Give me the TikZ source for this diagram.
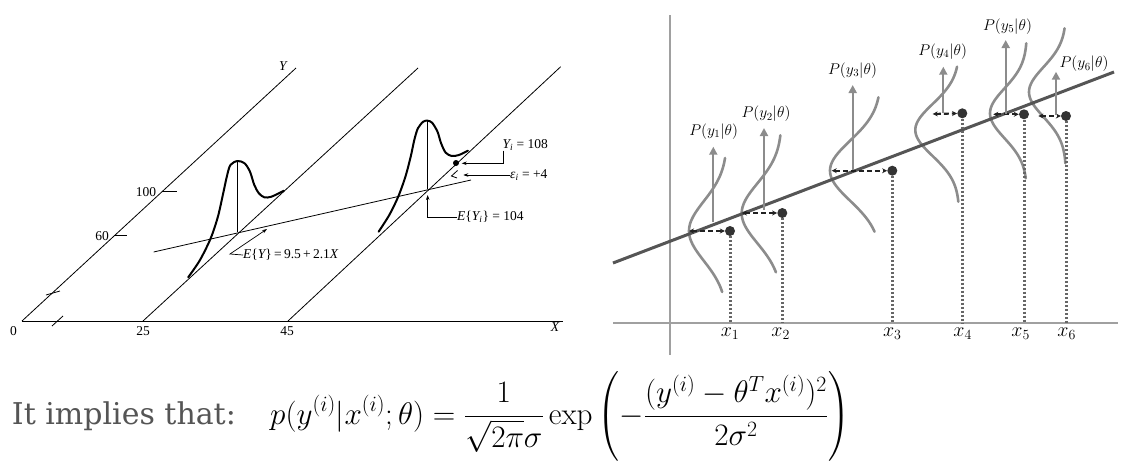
\RequirePackage{fix-cm}
\documentclass[tikz,border=0pt]{standalone}
\usepackage[no-math]{fontspec}
\usepackage{amsmath}
\usepackage{xcolor}
\usepackage{tikz}
\usetikzlibrary{arrows.meta,positioning,calc}
\newfontfamily\bookfont{Liberation Serif}
\newfontfamily\slidefont{DejaVu Serif}
\definecolor{axisgray}{HTML}{A0A0A0}
\definecolor{fitgray}{HTML}{555555}
\definecolor{curvegray}{HTML}{8C8C8C}
\definecolor{dashblack}{HTML}{222222}
\definecolor{dropgray}{HTML}{666666}
\definecolor{obsblack}{HTML}{333333}
\definecolor{textgray}{HTML}{555555}

\begin{document}
\begin{tikzpicture}[
    x=1pt, y=-1pt,
    thinline/.style={line width=0.8pt, black},
    density/.style={line width=2pt, black, line join=round, line cap=round},
    lead/.style={line width=0.7pt, -{Stealth[length=5pt, width=3.5pt]}},
    booklabel/.style={font=\bookfont\fontsize{13.5}{15}\selectfont, inner sep=0pt},
    axisline/.style={line width=2pt, axisgray},
    fitline/.style={line width=3pt, fitgray},
    gauss/.style={line width=2.6pt, curvegray, line cap=round},
    meanarrow/.style={line width=2pt, curvegray, -{Triangle[length=8pt, width=8pt]}},
    offset/.style={line width=2.2pt, dashblack, dash pattern=on 5pt off 3pt, {Stealth[length=5pt, width=5pt]}-{Stealth[length=5pt, width=5pt]}},
    drop/.style={line width=3pt, dropgray, dash pattern=on 2.2pt off 1.8pt},
    obs/.style={circle, fill=obsblack, minimum size=10pt, inner sep=0pt},
    plabel/.style={font=\fontsize{15.5}{18}\selectfont, inner sep=0pt},
    xlabel/.style={font=\fontsize{20}{24}\selectfont, inner sep=0pt}
]
\useasboundingbox (0,0) rectangle (1130,472);

% left: textbook figure
\coordinate (o) at (22,321);
\coordinate (xend) at (563,321);
\coordinate (yend) at (296,68);
\coordinate (b25) at (143,321);
\coordinate (t25) at (418,68);
\coordinate (b45) at (288,321);
\coordinate (t45) at (560.7,66.7);
\coordinate (r0) at (153.6,252);
\coordinate (r1) at (471,180);

\draw[thinline] (o) -- (xend);
\draw[thinline] (o) -- (yend);
\draw[thinline] (b25) -- (t25);
\draw[thinline] (b45) -- (t45);
\draw[thinline] (52,326) -- (63,316);
\draw[thinline] (46,295) -- (60,291);
\draw[thinline] (162,191.7) -- (177,191.7);
\draw[thinline] (114.4,235.7) -- (127,235.7);
\draw[thinline] (r0) -- (r1);

\node[booklabel] (zero) at (13.6,331) {0};
\node[booklabel] (v25) at (143,331) {25};
\node[booklabel] (v45) at (287,331) {45};
\node[booklabel] (xname) at (555,327) {\itshape X};
\node[booklabel] (yname) at (283,66) {\itshape Y};
\node[booklabel] (v100) at (146,192) {100};
\node[booklabel] (v60) at (102,236) {60};

% first density, at X = 25
\coordinate (m1) at (237.5,232);
\coordinate (top1) at (237.5,161);
\draw[thinline] (m1) -- (top1);
\draw[density] plot[smooth] coordinates {(188.2,277.3) (200,260) (210.7,238.3) (217.9,216.7) (223.2,193.3) (226.8,176.7) (230.4,165) (237.5,161) (244.6,163.3) (250,171.7) (254.3,185) (258.9,193.3) (264.3,197.3) (271.4,196.7) (283.9,190.7)};

% second density, at X = 45
\coordinate (m2) at (427.5,189);
\coordinate (top2) at (427.5,121);
\draw[thinline] (m2) -- (top2);
\draw[density] plot[smooth] coordinates {(378.6,231.7) (389.3,215) (398.2,196.7) (405.4,176.7) (410.7,156.7) (414.3,140) (417.9,128.3) (423.2,121.7) (427.5,120.7) (432.1,122.7) (437.5,131.7) (441.1,143.3) (445.7,152.7) (451.8,156) (458.9,155) (467.9,150.7)};

\node[circle, fill=black, minimum size=6pt, inner sep=0pt] (yobs) at (456,163) {};
\draw[thinline] (457.5,170.5) -- (451.5,176) -- (457,178);

\node[booklabel, anchor=west] (ey) at (243,255) {{\itshape E}\{{\itshape Y}\}\,=\,9.5\,+\,2.1{\itshape X}};
\coordinate (eybend) at (230,254);
\coordinate (eytip) at (267,229);
\draw[lead] (ey.west) -- (eybend) -- (eytip);

\node[booklabel, anchor=west] (yi) at (502.5,145) {{\itshape Y}\textsubscript{\itshape i} = 108};
\coordinate (yitip) at (461.7,163.3);
\draw[lead] ([xshift=1pt]yi.south west) |- (yitip);

\node[booklabel, anchor=west] (eps) at (510,175) {{\itshape ε}\textsubscript{\itshape i} = +4};
\coordinate (epstip) at (463.3,175);
\draw[lead] (eps.west) -- (epstip);

\node[booklabel, anchor=west] (eyi) at (457,217) {{\itshape E}\{{\itshape Y}\textsubscript{\itshape i}\} = 104};
\coordinate (eyitip) at (427.7,195);
\draw[lead] (eyi.west) -| (eyitip);

% right: likelihood sketch
\coordinate (ax0) at (613,323);
\coordinate (ax1) at (1118,323);
\coordinate (ay0) at (670,355);
\coordinate (ay1) at (670,15);
\coordinate (f0) at (613,263);
\coordinate (f1) at (1114,72);
\draw[axisline] (ax0) -- (ax1);
\draw[axisline] (ay0) -- (ay1);

\draw[gauss] plot[domain=-73:61, samples=60] ({727-38*exp(-(\x*\x)/1800)}, {231+\x});
\draw[gauss] plot[domain=-78:59, samples=60] ({781.7-40*exp(-(\x*\x)/1800)}, {213.3+\x});
\draw[gauss] plot[domain=-73.4:61, samples=60] ({881-51*exp(-(\x*\x)/1800)}, {170.7+\x});
\draw[gauss] plot[domain=-63.3:71.7, samples=60] ({959.3-44*exp(-(\x*\x)/1352)}, {130+\x});
\draw[gauss] plot[domain=-70:65, samples=60] ({1027-37*exp(-(\x*\x)/1250)}, {113.3+\x});
\draw[gauss] plot[domain=-63.7:71.3, samples=60] ({1066-37*exp(-(\x*\x)/1250)}, {92+\x});

\draw[fitline] (f0) -- (f1);

\node[obs] (d1) at (730,231) {};
\node[obs] (d2) at (782.3,213) {};
\node[obs] (d3) at (892.3,170.7) {};
\node[obs] (d4) at (962.3,113.3) {};
\node[obs] (d5) at (1024,114.3) {};
\node[obs] (d6) at (1066,116) {};

\coordinate (g1) at (730,323);
\coordinate (g2) at (782.3,323);
\coordinate (g3) at (892.3,323);
\coordinate (g4) at (962.3,323);
\coordinate (g5) at (1024,323);
\coordinate (g6) at (1066,323);
\draw[drop] (d1) -- (g1);
\draw[drop] (d2) -- (g2);
\draw[drop] (d3) -- (g3);
\draw[drop] (d4) -- (g4);
\draw[drop] (d5) -- (g5);
\draw[drop] (d6) -- (g6);

\coordinate (c1) at (689,231);
\coordinate (c2) at (742,213);
\coordinate (c3) at (831.7,170.7);
\coordinate (c4) at (932.7,114);
\coordinate (c5) at (993.3,114.3);
\coordinate (c6) at (1038.3,116);
\draw[offset] (c1) -- (d1);
\draw[offset] (c2) -- (d2);
\draw[offset] (c3) -- (d3);
\draw[offset] (c4) -- (d4);
\draw[offset] (c5) -- (d5);
\draw[offset] (c6) -- (d6);

\coordinate (u1) at (713.3,222);
\coordinate (u2) at (764,210);
\coordinate (u3) at (852.7,170);
\coordinate (u4) at (943.3,113);
\coordinate (u5) at (1005.7,114);
\coordinate (u6) at (1056,115);
\coordinate (h1) at (713.3,146.7);
\coordinate (h2) at (764,128);
\coordinate (h3) at (852.7,85);
\coordinate (h4) at (943.3,66.7);
\coordinate (h5) at (1005.7,40);
\coordinate (h6) at (1056,71.7);
\draw[meanarrow] (u1) -- (h1);
\draw[meanarrow] (u2) -- (h2);
\draw[meanarrow] (u3) -- (h3);
\draw[meanarrow] (u4) -- (h4);
\draw[meanarrow] (u5) -- (h5);
\draw[meanarrow] (u6) -- (h6);

\node[plabel] (p1) at (713.7,131.7) {$P(y_1|\theta)$};
\node[plabel] (p2) at (766,114) {$P(y_2|\theta)$};
\node[plabel] (p3) at (852.5,70.7) {$P(y_3|\theta)$};
\node[plabel] (p4) at (942.7,51.7) {$P(y_4|\theta)$};
\node[plabel] (p5) at (1007.5,26.7) {$P(y_5|\theta)$};
\node[plabel] (p6) at (1084,64) {$P(y_6|\theta)$};

\node[xlabel] (x1) at (730,334) {$x_1$};
\node[xlabel] (x2) at (780.7,334) {$x_2$};
\node[xlabel] (x3) at (892.3,334) {$x_3$};
\node[xlabel] (x4) at (962.7,334) {$x_4$};
\node[xlabel] (x5) at (1020.7,334) {$x_5$};
\node[xlabel] (x6) at (1066.7,334) {$x_6$};

% bottom: the formula
\node[anchor=base west, inner sep=0pt, text=textgray, font=\slidefont\fontsize{30}{36}\selectfont] (implies) at (11.7,424) {It implies that:};
\node[anchor=base west, inner sep=0pt, font=\fontsize{31.2}{37}\selectfont] (density) at (270,424) {$\displaystyle p(y^{(i)}|x^{(i)};\theta)=\frac{1}{\sqrt{2\pi}\sigma}\exp\left(-\frac{(y^{(i)}-\theta^Tx^{(i)})^2}{2\sigma^2}\right)$};
\end{tikzpicture}
\end{document}
